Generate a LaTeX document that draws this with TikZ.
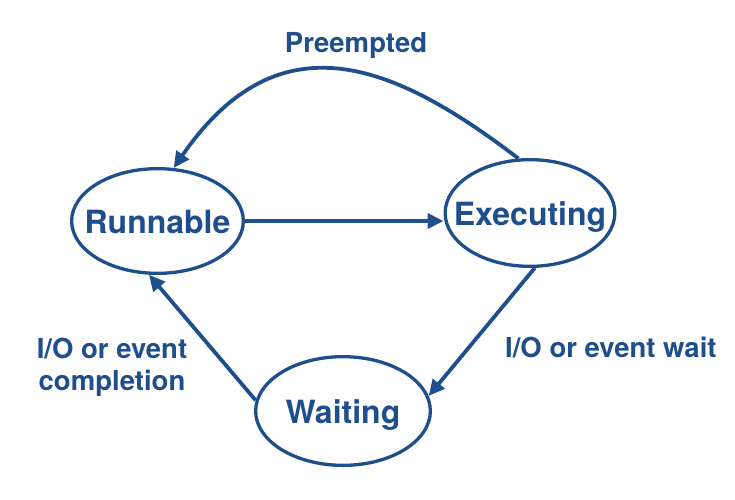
\documentclass[tikz,border=0pt]{standalone}
\usepackage{fontspec}
\setmainfont{TeX Gyre Heros}
\usetikzlibrary{shapes.geometric,arrows.meta}
\definecolor{dblue}{RGB}{30,79,140}
\begin{document}
\begin{tikzpicture}[x=1pt,y=-1pt,
  state/.style={ellipse, draw=dblue, line width=3.3pt, inner sep=0pt, text=dblue,
    font=\fontsize{32}{38}\selectfont\bfseries, text height=24pt, text depth=0pt},
  trans/.style={draw=dblue, line width=3.8pt, -{Triangle[length=16pt,width=15pt]}},
  lbl/.style={text=dblue, font=\fontsize{27.5}{32}\selectfont\bfseries, inner sep=0pt}]
\useasboundingbox (0,0) rectangle (735,499);
\node[state, minimum width=171.7pt, minimum height=104.7pt] (R) at (157.5,221) {\makebox[0pt]{Runnable}};
\node[state, minimum width=169.7pt, minimum height=106.7pt] (E) at (530,213) {\makebox[0pt]{Executing}};
\node[state, minimum width=174.7pt, minimum height=108.7pt] (W) at (343,411) {\makebox[0pt]{Waiting}};
\draw[trans] (R.east) -- (R.east -| E.west);
\draw[trans] (E.102) .. controls (396,65) and (280,14) .. (R.73);
\draw[trans] (E.-85) -- (W.10);
\draw[trans] (W.173) -- (R.-99);
\node[lbl, anchor=base] (pre) at (356,52) {Preempted};
\node[lbl, anchor=base west] (wait) at (505,357) {I/O or event wait};
\node[lbl, align=center, anchor=base] (comp) at (112,390) {I/O or event\\completion};
\end{tikzpicture}
\end{document}
